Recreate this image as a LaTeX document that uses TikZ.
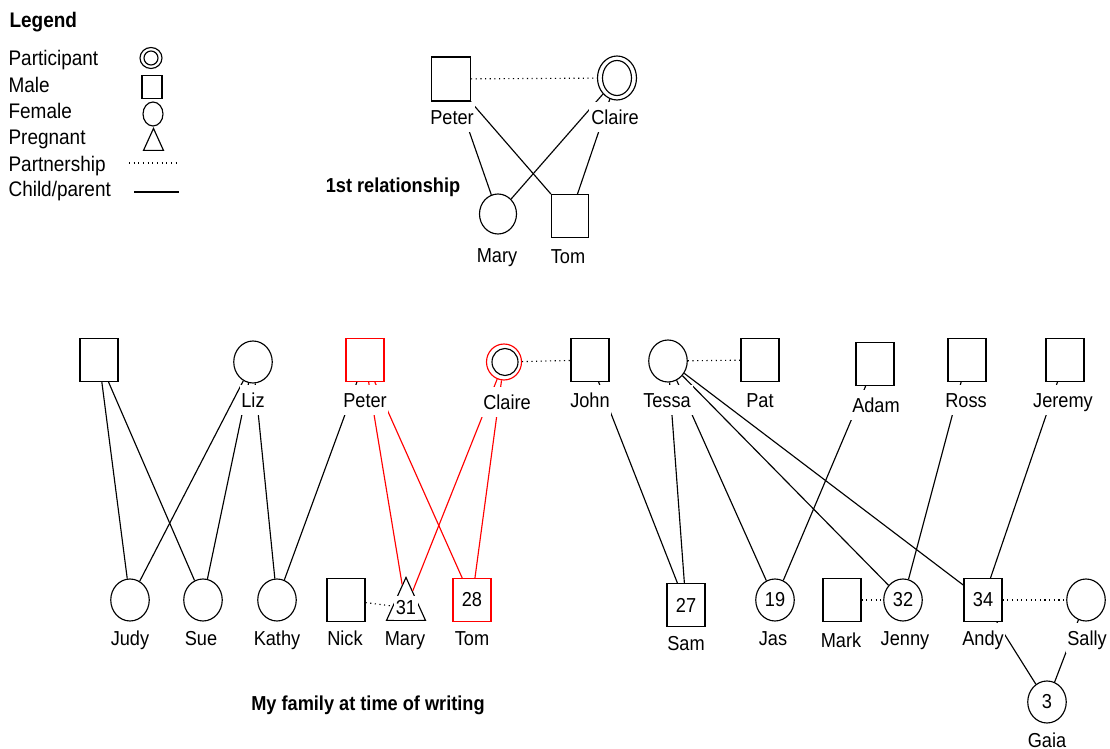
\documentclass[tikz,border=0pt]{standalone}
\usepackage{fontspec}
\setmainfont[FakeStretch=0.9]{Liberation Sans}
\usetikzlibrary{shapes.geometric}
\begin{document}
\begin{tikzpicture}[x=0.02cm, y=-0.02cm, line width=0.65pt]
  \useasboundingbox (0,0) rectangle (1110,749);
  \tikzstyle{male} = [draw, rectangle, minimum width=0.76cm, minimum height=0.86cm, inner sep=0pt, font=\fontsize{11.5}{13}\selectfont]
  \tikzstyle{female} = [draw, ellipse, minimum width=0.77cm, minimum height=0.84cm, inner sep=0pt, font=\fontsize{11.5}{13}\selectfont]
  \tikzstyle{pregnant} = [draw, isosceles triangle, isosceles triangle stretches, shape border rotate=90, minimum width=0.78cm, minimum height=0.86cm, inner sep=0pt, anchor=south]
  \tikzstyle{tag} = [fill=white, inner xsep=1pt, inner ysep=2.5pt, text height=10pt, text depth=1.8pt, font=\fontsize{11.5}{13}\selectfont]
  \tikzstyle{legendtext} = [anchor=west, inner sep=0pt, text height=8.6pt, text depth=0pt, font=\fontsize{12}{14}\selectfont]
  \tikzstyle{heading} = [font=\bfseries\fontsize{11.5}{13}\selectfont]
  \tikzstyle{partner} = [dotted]

  % legend
  \node[legendtext, font=\bfseries\fontsize{12}{14}\selectfont] (legend) at (9,20) {Legend};
  \foreach \n/\t/\y in {part/Participant/58, male/Male/85, fem/Female/111, preg/Pregnant/137, ship/Partnership/164, child/{Child/parent}/189}{
    \node[legendtext] (l\n) at (8,\y) {\t};
  }
  \node[female, minimum width=0.44cm, minimum height=0.42cm] (sympart) at (151,58) {};
  \node[female, minimum width=0.28cm, minimum height=0.28cm] (sympartin) at (151,58) {};
  \node[male, minimum width=0.4cm, minimum height=0.46cm] (symmale) at (152,87) {};
  \node[female, minimum width=0.4cm, minimum height=0.48cm] (symfem) at (153,114) {};
  \node[pregnant, minimum width=0.4cm, minimum height=0.44cm] (sympreg) at (153.5,151) {};
  \coordinate (shipA) at (129,163);
  \coordinate (shipB) at (176,163);
  \coordinate (childA) at (134,192);
  \coordinate (childB) at (179,192);
  \draw[partner] (shipA) -- (shipB);
  \draw (childA) -- (childB);

  % 1st relationship
  \node[male, minimum width=0.78cm, minimum height=0.88cm] (peterA) at (451,79) {};
  \node[female, minimum width=0.78cm, minimum height=0.88cm] (claireA) at (617,78) {};
  \node[female, minimum width=0.58cm, minimum height=0.7cm] (claireAin) at (617,78) {};
  \node[female, minimum width=0.74cm, minimum height=0.8cm] (maryA) at (498,214) {};
  \node[male, minimum width=0.74cm, minimum height=0.86cm] (tomA) at (570,216) {};
  \path
  (peterA) edge[partner] (claireA)
  (peterA) edge (maryA)
  edge (tomA);
  \path
  (claireA) edge (maryA)
  edge (tomA);
  \foreach \n/\t/\x/\y in {peterA/Peter/452/117, claireA/Claire/615/117, maryA/Mary/497/255, tomA/Tom/568/256}{
    \node[tag] (l\n) at (\x,\y) {\t};
  }
  \node[heading] (first) at (393,187) {1st relationship};

  % my family
  \foreach \n/\t/\x/\y in {dad//99/360, john//590/360, pat//760/360, adam//875/364, ross//967/360, jeremy//1065/360, nick//346/600, sam/27/686/605, mark//842/600, andy/34/983/600}{
    \node[male] (\n) at (\x,\y) {\t};
  }
  \foreach \n/\t/\x/\y in {liz//253/362, tessa//668/361, judy//130/600, sue//203/600, kathy//277/600, jas/19/775/600, jenny/32/903/600, sally//1086/600, gaia/3/1047/702}{
    \node[female] (\n) at (\x,\y) {\t};
  }
  \node[male, draw=red] (peter) at (365,360) {};
  \node[male, draw=red] (tom) at (472,600) {28};
  \node[female, draw=red, minimum width=0.7cm, minimum height=0.72cm] (claire) at (504,362) {};
  \node[female, minimum width=0.52cm, minimum height=0.54cm] (clairein) at (505,362) {};
  \node[pregnant] (mary) at (406,621) {};

  \path
  (dad) edge (judy)
  edge (sue);
  \path
  (liz) edge (judy)
  edge (sue)
  edge (kathy);
  \path
  (peter) edge (kathy);
  \path[red]
  (peter) edge (mary)
  edge (tom);
  \path[red]
  (claire) edge (mary)
  edge (tom);
  \path
  (john) edge (sam);
  \path
  (tessa) edge (sam)
  edge (jas)
  edge (jenny)
  edge (andy);
  \path
  (adam) edge (jas)
  (ross) edge (jenny)
  (jeremy) edge (andy);
  \path
  (andy) edge (gaia)
  (sally) edge (gaia);
  \path[partner]
  (claire) edge (john)
  (tessa) edge (pat)
  (nick) edge (mary)
  (mark) edge (jenny)
  (andy) edge (sally);

  \node[fill=white, inner xsep=1pt, inner ysep=3pt, font=\fontsize{11.5}{13}\selectfont] (maryage) at (406,608) {31};
  \foreach \n/\t/\x/\y in {liz/Liz/253/400, peter/Peter/365/400, claire/Claire/507/402, john/John/590/400, tessa/Tessa/667/400, pat/Pat/760/400, adam/Adam/876/405, ross/Ross/966/400, jeremy/Jeremy/1063/400, judy/Judy/130/638, sue/Sue/201/638, kathy/Kathy/277/638, nick/Nick/345/638, mary/Mary/405/638, tom/Tom/472/638, sam/Sam/686/643, jas/Jas/773/638, mark/Mark/841/640, jenny/Jenny/905/638, andy/Andy/983/638, sally/Sally/1087/638, gaia/Gaia/1047/740}{
    \node[tag] (l\n) at (\x,\y) {\t};
  }
  \node[heading] (family) at (368,705) {My family at time of writing};
\end{tikzpicture}
\end{document}
